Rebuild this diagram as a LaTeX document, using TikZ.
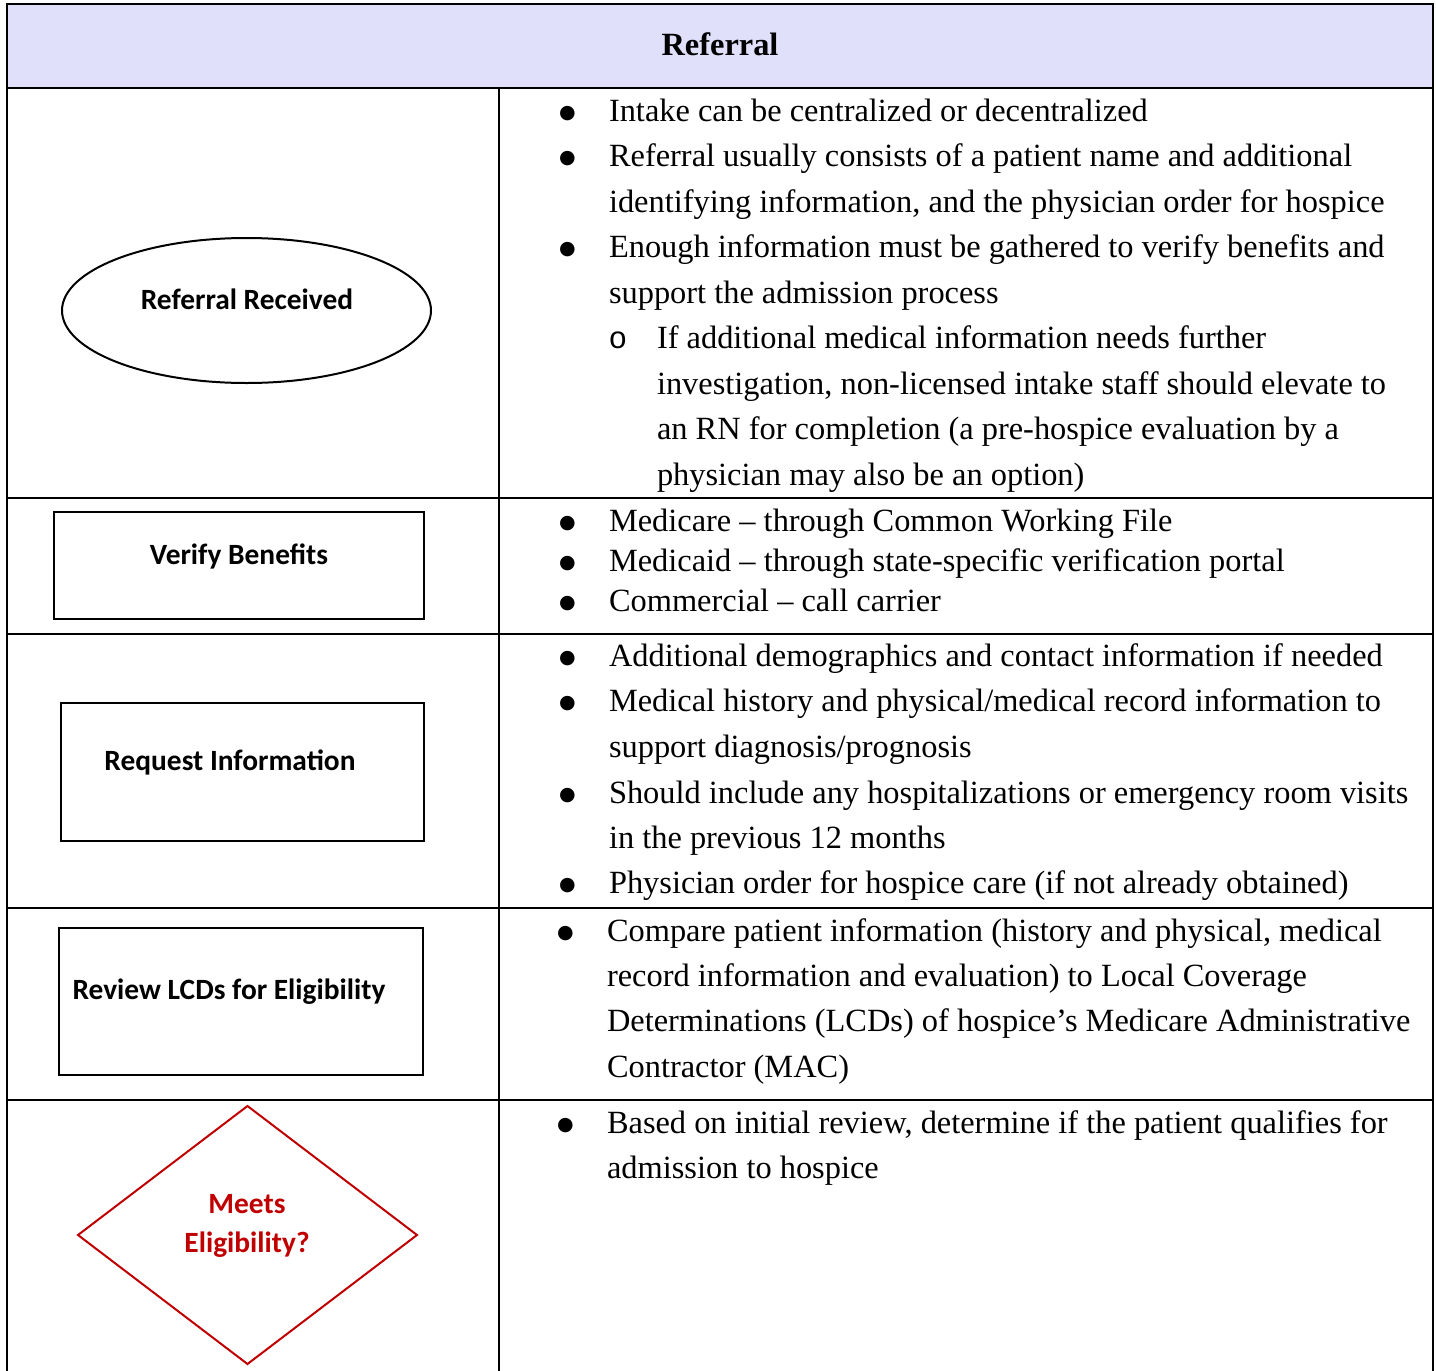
\documentclass[tikz,border=0pt]{standalone}
\usepackage{fontspec}
\setmainfont{Liberation Serif}
\newfontfamily\labfont{Carlito}
\newfontfamily\monofnt{Liberation Mono}
\newfontfamily\dejafnt{DejaVu Sans}
\usetikzlibrary{shapes.geometric}
\definecolor{headfill}{RGB}{224,224,251}
\definecolor{darkred}{RGB}{192,0,0}
\tikzset{
  grid/.style={line width=2pt, black},
  body/.style={anchor=base west, inner sep=0pt, outer sep=0pt, font=\fontsize{32.4}{40}\selectfont},
  bul/.style={anchor=base, inner sep=0pt, outer sep=0pt, yshift=3pt, font=\dejafnt\fontsize{19}{21}\selectfont},
  subbul/.style={anchor=center, inner sep=0pt, outer sep=0pt, font=\monofnt\fontsize{31}{34}\selectfont},
  shapebox/.style={draw, line width=2pt, inner sep=0pt, outer sep=0pt},
  lab/.style={anchor=base, inner sep=0pt, outer sep=0pt, font=\labfont\bfseries\fontsize{29.4}{34}\selectfont},
}
\begin{document}
\begin{tikzpicture}[x=1pt,y=-1pt]
\useasboundingbox (0,0) rectangle (1436,1371);
% header
\fill[headfill] (7,4) rectangle (1433,88);
\draw[grid] (7,1371) -- (7,4) -- (1433,4) -- (1433,1371);
\foreach \yy in {88,498,634,908,1100} \draw[grid] (7,\yy) -- (1433,\yy);
\draw[grid] (499,88) -- (499,1371);
\node[anchor=base, inner sep=0pt, font=\bfseries\fontsize{32.4}{40}\selectfont] (head) at (720,55) {Referral};

% left column shapes
\node[shapebox, ellipse, minimum width=369pt, minimum height=145pt] (ell) at (246.5,310.5) {};
\node[lab] (l1) at (247,309) {Referral Received};
\node[shapebox, rectangle, minimum width=370pt, minimum height=107pt] (r1) at (239,565.5) {};
\node[lab] (l2) at (239,564) {Verify Benefits};
\node[shapebox, rectangle, minimum width=363pt, minimum height=138pt] (r2) at (242.5,772) {};
\node[lab] (l3) at (230,770) {Request Information};
\node[shapebox, rectangle, minimum width=364pt, minimum height=147pt] (r3) at (241,1001.5) {};
\node[lab] (l4) at (229,999) {Review LCDs for Eligibility};
\node[shapebox, diamond, draw=darkred, minimum width=339pt, minimum height=258pt] (dia) at (247.5,1235) {};
\node[lab, text=darkred] (l5a) at (247,1213) {Meets};
\node[lab, text=darkred] (l5b) at (247,1252) {Eligibility?};

% row 1
\node[bul] (b1) at (567.5,121) {●};
\node[body] (t1) at (609,121) {Intake can be centralized or decentralized};
\node[bul] (b2) at (567.5,166) {●};
\node[body] (t2) at (609,166) {Referral usually consists of a patient name and additional};
\node[body] (t3) at (609,212) {identifying information, and the physician order for hospice};
\node[bul] (b3) at (567.5,257) {●};
\node[body] (t4) at (609,257) {Enough information must be gathered to verify benefits and};
\node[body] (t5) at (609,303) {support the admission process};
\node[subbul] (s1) at (618,340.5) {o};
\node[body] (t6) at (657,348) {If additional medical information needs further};
\node[body] (t7) at (657,394) {investigation, non-licensed intake staff should elevate to};
\node[body] (t8) at (657,439) {an RN for completion (a pre-hospice evaluation by a};
\node[body] (t9) at (657,485) {physician may also be an option)};

% row 2
\node[bul] (b4) at (567.5,531) {●};
\node[body] (t10) at (609,531) {Medicare – through Common Working File};
\node[bul] (b5) at (567.5,571) {●};
\node[body] (t11) at (609,571) {Medicaid – through state-specific verification portal};
\node[bul] (b6) at (567.5,611) {●};
\node[body] (t12) at (609,611) {Commercial – call carrier};

% row 3
\node[bul] (b7) at (567.5,666) {●};
\node[body] (t13) at (609,666) {Additional demographics and contact information if needed};
\node[bul] (b8) at (567.5,711) {●};
\node[body] (t14) at (609,711) {Medical history and physical/medical record information to};
\node[body] (t15) at (609,757) {support diagnosis/prognosis};
\node[bul] (b9) at (567.5,803) {●};
\node[body] (t16) at (609,803) {Should include any hospitalizations or emergency room visits};
\node[body] (t17) at (609,848) {in the previous 12 months};
\node[bul] (b10) at (567.5,893) {●};
\node[body] (t18) at (609,893) {Physician order for hospice care (if not already obtained)};

% row 4
\node[bul] (b11) at (565.5,941) {●};
\node[body] (t19) at (607,941) {Compare patient information (history and physical, medical};
\node[body] (t20) at (607,986) {record information and evaluation) to Local Coverage};
\node[body] (t21) at (607,1031) {Determinations (LCDs) of hospice’s Medicare Administrative};
\node[body] (t22) at (607,1077) {Contractor (MAC)};

% row 5
\node[bul] (b12) at (565.5,1133) {●};
\node[body] (t23) at (607,1133) {Based on initial review, determine if the patient qualifies for};
\node[body] (t24) at (607,1178) {admission to hospice};
\end{tikzpicture}
\end{document}
